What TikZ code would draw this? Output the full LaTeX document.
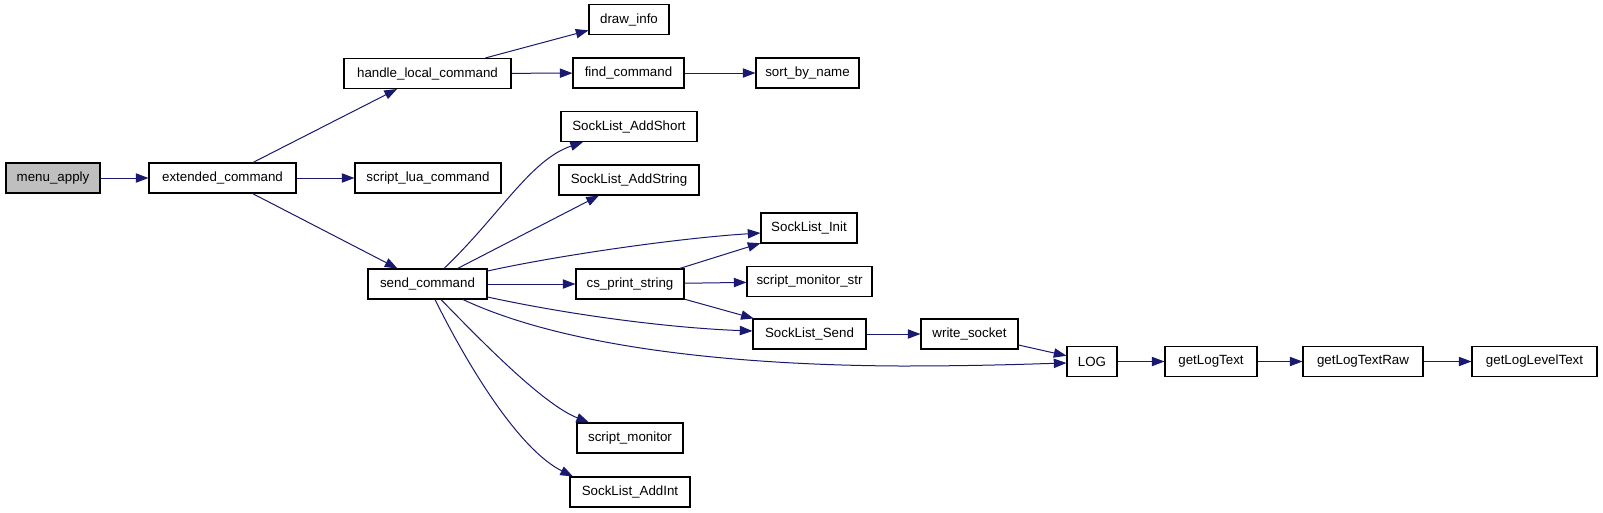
\documentclass[tikz,border=0pt]{standalone}
\usepackage{fontspec}
\setmainfont{Liberation Sans}
\usetikzlibrary{arrows.meta,calc}
\definecolor{edgec}{HTML}{191970}
\definecolor{rootfill}{HTML}{BFBFBF}
\begin{document}
\begin{tikzpicture}[x=0.75pt,y=-0.75pt,
  box/.style={draw=black, line width=0.8pt, fill=white, minimum height=22.5pt,
    inner sep=0pt, font=\fontsize{10}{12}\selectfont},
  edge/.style={draw=edgec, line width=0.75pt, -{Triangle[length=9.5pt,width=7pt]}}]
\useasboundingbox (0,0) rectangle (1603,512);
\fill[white] (0,0) rectangle (1603,512);

\node[box, fill=rootfill, minimum width=94*0.75pt] (menu) at (53,178) {menu\_apply};
\node[box, minimum width=147*0.75pt] (ext) at (222.5,178) {extended\_command};
\node[box, minimum width=167*0.75pt] (hlc) at (427.5,73.5) {handle\_local\_command};
\node[box, minimum width=146*0.75pt] (slua) at (428,178) {script\_lua\_command};
\node[box, minimum width=80*0.75pt] (dinfo) at (629,19.5) {draw\_info};
\node[box, minimum width=111*0.75pt] (fcmd) at (628.5,73) {find\_command};
\node[box, minimum width=103*0.75pt] (sbn) at (807.5,73) {sort\_by\_name};
\node[box, minimum width=136*0.75pt] (ashort) at (629,126.5) {SockList\_AddShort};
\node[box, minimum width=140*0.75pt] (astring) at (629,180) {SockList\_AddString};
\node[box, minimum width=96*0.75pt] (init) at (809,228) {SockList\_Init};
\node[box, minimum width=119*0.75pt] (send) at (427.5,284) {send\_command};
\node[box, minimum width=108*0.75pt] (cps) at (630,284) {cs\_print\_string};
\node[box, minimum width=125*0.75pt] (smstr) at (809.5,281.5) {script\_monitor\_str};
\node[box, minimum width=113*0.75pt] (ssend) at (809.5,334) {SockList\_Send};
\node[box, minimum width=97*0.75pt] (wsock) at (969.5,334) {write\_socket};
\node[box, minimum width=50*0.75pt] (log) at (1092,361.5) {LOG};
\node[box, minimum width=92*0.75pt] (glt) at (1211,361.5) {getLogText};
\node[box, minimum width=120*0.75pt] (gltr) at (1363,361.5) {getLogTextRaw};
\node[box, minimum width=125*0.75pt] (gllt) at (1534.5,361.5) {getLogLevelText};
\node[box, minimum width=106*0.75pt] (smon) at (630,438) {script\_monitor};
\node[box, minimum width=120*0.75pt] (aint) at (630,492) {SockList\_AddInt};

% straight edges
\draw[edge] (menu) -- (ext);
\draw[edge] (ext) -- (hlc);
\draw[edge] (ext) -- (slua);
\draw[edge] (ext) -- (send);
\draw[edge] (hlc) -- (dinfo);
\draw[edge] (hlc) -- (fcmd);
\draw[edge] (fcmd) -- (sbn);
\draw[edge] (send) -- (astring);
\draw[edge] (send) -- (cps);
\draw[edge] (cps) -- (init);
\draw[edge] (cps) -- (smstr);
\draw[edge] (cps) -- (ssend);
\draw[edge] (ssend) -- (wsock);
\draw[edge] (wsock) -- (log);
\draw[edge] (log) -- (glt);
\draw[edge] (glt) -- (gltr);
\draw[edge] (gltr) -- (gllt);

% curved edges
\draw[edge] ($(send.north)+(16.5,0)$) .. controls (500,215) and (530,160) .. ($(ashort.south)+(-46,0)$);
\draw[edge] ($(send.east)+(0,-13)$) .. controls (560,255) and (680,238) .. ($(init.west)+(0,5)$);
\draw[edge] ($(send.east)+(0,13)$) .. controls (570,315) and (670,328) .. ($(ssend.west)+(0,-3)$);
\draw[edge] ($(send.south)+(35.5,0)$) .. controls (560,345) and (720,365) .. (900,366)
  .. controls (980,366) and (1030,364) .. ($(log.west)+(0,1.5)$);
\draw[edge] ($(send.south)+(13.5,0)$) .. controls (490,350) and (545,405) .. ($(smon.north)+(-41,0)$);
\draw[edge] ($(send.south)+(7.5,0)$) .. controls (470,370) and (520,450) .. ($(aint.north)+(-57,0)$);
\end{tikzpicture}
\end{document}
